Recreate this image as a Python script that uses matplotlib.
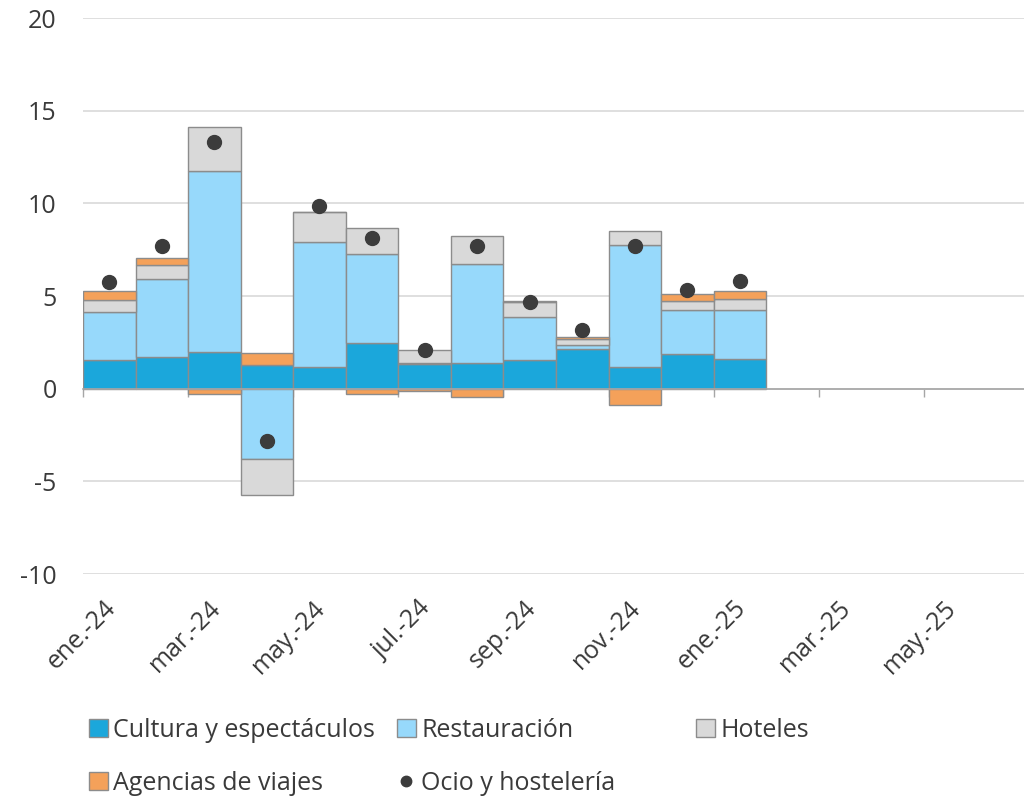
import matplotlib
matplotlib.use("Agg")
import matplotlib.pyplot as plt
import numpy as np
from matplotlib.patches import Patch
from matplotlib.lines import Line2D

plt.rcParams['font.family'] = ['Open Sans', 'DejaVu Sans']

# months on the axis (18 slots), data only for the first 13
months = ["ene.-24", "feb.-24", "mar.-24", "abr.-24", "may.-24", "jun.-24",
          "jul.-24", "ago.-24", "sep.-24", "oct.-24", "nov.-24", "dic.-24",
          "ene.-25", "feb.-25", "mar.-25", "abr.-25", "may.-25", "jun.-25"]

cultura = [1.56, 1.71, 1.98, 1.28, 1.17, 2.45, 1.33, 1.40, 1.55, 2.14, 1.17, 1.85, 1.62]
restauracion = [2.60, 4.19, 9.74, -3.80, 6.72, 4.79, 0.05, 5.35, 2.31, 0.22, 6.56, 2.37, 2.60]
hoteles = [0.65, 0.75, 2.40, -1.96, 1.63, 1.42, 0.68, 1.47, 0.81, 0.32, 0.79, 0.50, 0.61]
agencias = [0.48, 0.38, -0.29, 0.63, 0.00, -0.28, -0.14, -0.43, 0.08, 0.12, -0.88, 0.41, 0.43]
ocio = [5.78, 7.69, 13.30, -2.82, 9.85, 8.14, 2.10, 7.70, 4.67, 3.17, 7.70, 5.32, 5.80]

names = ["Cultura y espectáculos", "Restauración", "Hoteles", "Agencias de viajes"]
colors = ["#1BA7DB", "#97D9FB", "#D9D9D9", "#F4A15A"]
dot_color = "#3C3C3C"
edge = "#8C8C8C"
txt = "#3A3A3A"
fs = 18

fig = plt.figure(figsize=(10.24, 7.97), dpi=100)
ax = fig.add_axes([83/1024, 1 - 574/797, (1024 - 83)/1024, (574 - 18)/797])

n = len(cultura)
x = np.arange(n) + 0.5
pos_base = np.zeros(n)
neg_base = np.zeros(n)
for vals, c in zip([cultura, restauracion, hoteles, agencias], colors):
    v = np.array(vals)
    base = np.where(v >= 0, pos_base, neg_base)
    ax.bar(x, v, width=1.0, bottom=base, color=c, edgecolor=edge, linewidth=1.0, zorder=3)
    pos_base += np.where(v >= 0, v, 0)
    neg_base += np.where(v < 0, v, 0)

ax.plot(x, ocio, 'o', color=dot_color, markersize=10, zorder=5)

ax.set_ylim(-10, 20)
ax.set_xlim(0, 941/52.55)
ax.set_yticks(np.arange(-10, 21, 5))
ax.set_yticklabels([str(v) for v in range(-10, 21, 5)])
ax.grid(axis='y', color='#D9D9D9', linewidth=1.2, zorder=0)
ax.set_axisbelow(True)

for s in ['top', 'right', 'left']:
    ax.spines[s].set_visible(False)
ax.spines['bottom'].set_position(('data', 0))
ax.spines['bottom'].set_color('#A6A6A6')
ax.spines['bottom'].set_linewidth(1.2)
ax.spines['bottom'].set_zorder(4)

ax.set_xticks(np.arange(0, len(months), 2))
ax.tick_params(axis='x', direction='out', length=5.5, width=1, color='#A6A6A6', labelbottom=False)
ax.tick_params(axis='y', length=0, pad=19, labelsize=fs, labelcolor=txt)

# rotated month labels under the plot area
for i in range(0, len(months), 2):
    ax.text(i + 0.55, -0.055, months[i], transform=ax.get_xaxis_transform(),
            rotation=45, rotation_mode='anchor', ha='right', va='center',
            fontsize=fs, color=txt)

# legend: three columns placed like the original
h = [Patch(facecolor=c, edgecolor=edge, linewidth=1.0) for c in colors]
dot = Line2D([], [], marker='o', linestyle='none', color=dot_color, markersize=7.5)
cols = [([h[0], h[3]], [names[0], names[3]], 89),
        ([h[1], dot], [names[1], "Ocio y hostelería"], 397),
        ([h[2]], [names[2]], 696)]
for hs, ls, px in cols:
    fig.legend(hs, ls, loc='upper left', bbox_to_anchor=(px/1024, 1 - 718/797),
               frameon=False, fontsize=fs, handlelength=0.75, handleheight=0.75,
               handletextpad=0.22, labelspacing=1.1, borderpad=0, borderaxespad=0,
               labelcolor=txt)

fig.savefig("out.png", dpi=100)
